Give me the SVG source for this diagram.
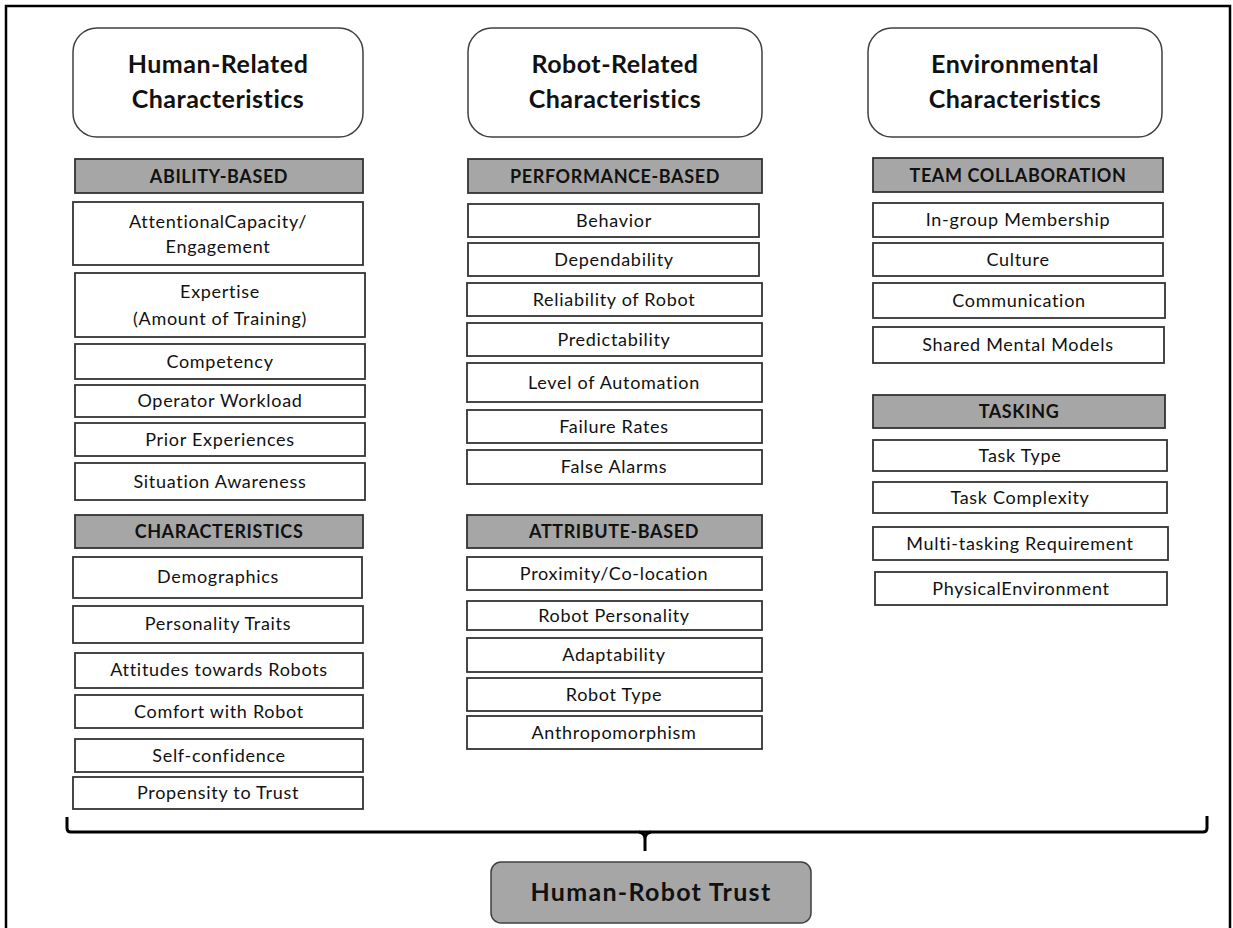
<svg xmlns="http://www.w3.org/2000/svg" width="1233" height="928" viewBox="0 0 1233 928">
<style>
.frame{fill:none;stroke:#000;stroke-width:2.5}
.title{fill:#fff;stroke:#404040;stroke-width:1.5}
.hdr{fill:#a6a6a6;stroke:#333;stroke-width:1.8}
.item{fill:#fff;stroke:#333;stroke-width:1.8}
.trust{fill:#a6a6a6;stroke:#404040;stroke-width:1.5}
text{font-family:Lato,"Liberation Sans",sans-serif;fill:#111;text-anchor:middle}
.tt{font-size:25px;font-weight:700;letter-spacing:0.5px}
.ht{font-size:18px;font-weight:700;letter-spacing:0.6px}
.it{font-size:18px;letter-spacing:0.7px}
.trt{font-size:25px;font-weight:700;letter-spacing:1.3px}
.br{fill:none;stroke:#000;stroke-width:3;stroke-linecap:butt}
</style>
<rect width="1233" height="928" fill="#fff"/>
<path class="frame" d="M6,928 L6,6 L1230,6 L1230,928"/>

<g id="human-title"><rect class="title" x="73" y="28" width="290" height="109" rx="24"/><text class="tt" x="218" y="73">Human-Related</text><text class="tt" x="218" y="108">Characteristics</text></g>
<g id="robot-title"><rect class="title" x="468" y="28" width="294" height="109" rx="24"/><text class="tt" x="615" y="73">Robot-Related</text><text class="tt" x="615" y="108">Characteristics</text></g>
<g id="env-title"><rect class="title" x="868" y="28" width="294" height="109" rx="24"/><text class="tt" x="1015" y="73">Environmental</text><text class="tt" x="1015" y="108">Characteristics</text></g>

<g id="h-ability"><rect class="hdr" x="75" y="159" width="288" height="34"/><text class="ht" x="219" y="183">ABILITY-BASED</text></g>
<g id="h-attention"><rect class="item" x="73" y="202" width="290" height="63"/><text class="it" x="218" y="228">AttentionalCapacity/</text><text class="it" x="218" y="253">Engagement</text></g>
<g id="h-expertise"><rect class="item" x="75" y="273" width="290" height="64"/><text class="it" x="220" y="298">Expertise</text><text class="it" x="220" y="325">(Amount of Training)</text></g>
<g id="h-competency"><rect class="item" x="75" y="344" width="290" height="35"/><text class="it" x="220" y="368">Competency</text></g>
<g id="h-workload"><rect class="item" x="75" y="385" width="290" height="32"/><text class="it" x="220" y="407">Operator Workload</text></g>
<g id="h-prior"><rect class="item" x="75" y="423" width="290" height="33"/><text class="it" x="220" y="446">Prior Experiences</text></g>
<g id="h-situation"><rect class="item" x="75" y="463" width="290" height="37"/><text class="it" x="220" y="488">Situation Awareness</text></g>
<g id="h-characteristics"><rect class="hdr" x="75" y="515" width="288" height="33"/><text class="ht" x="219" y="538">CHARACTERISTICS</text></g>
<g id="h-demographics"><rect class="item" x="73" y="557" width="289" height="41"/><text class="it" x="218" y="583">Demographics</text></g>
<g id="h-personality"><rect class="item" x="73" y="606" width="290" height="37"/><text class="it" x="218" y="630">Personality Traits</text></g>
<g id="h-attitudes"><rect class="item" x="75" y="653" width="288" height="35"/><text class="it" x="219" y="676">Attitudes towards Robots</text></g>
<g id="h-comfort"><rect class="item" x="75" y="695" width="288" height="33"/><text class="it" x="219" y="718">Comfort with Robot</text></g>
<g id="h-selfconf"><rect class="item" x="75" y="739" width="288" height="33"/><text class="it" x="219" y="762">Self-confidence</text></g>
<g id="h-propensity"><rect class="item" x="73" y="777" width="290" height="32"/><text class="it" x="218" y="799">Propensity to Trust</text></g>

<g id="r-performance"><rect class="hdr" x="468" y="159" width="294" height="34"/><text class="ht" x="615" y="183">PERFORMANCE-BASED</text></g>
<g id="r-behavior"><rect class="item" x="468" y="204" width="291" height="33"/><text class="it" x="614" y="227">Behavior</text></g>
<g id="r-dependability"><rect class="item" x="468" y="243" width="291" height="33"/><text class="it" x="614" y="266">Dependability</text></g>
<g id="r-reliability"><rect class="item" x="467" y="283" width="295" height="33"/><text class="it" x="614" y="306">Reliability of Robot</text></g>
<g id="r-predictability"><rect class="item" x="467" y="323" width="295" height="33"/><text class="it" x="614" y="346">Predictability</text></g>
<g id="r-automation"><rect class="item" x="467" y="363" width="295" height="39"/><text class="it" x="614" y="389">Level of Automation</text></g>
<g id="r-failure"><rect class="item" x="467" y="410" width="295" height="33"/><text class="it" x="614" y="433">Failure Rates</text></g>
<g id="r-false"><rect class="item" x="467" y="450" width="295" height="34"/><text class="it" x="614" y="473">False Alarms</text></g>
<g id="r-attribute"><rect class="hdr" x="467" y="515" width="295" height="33"/><text class="ht" x="614" y="538">ATTRIBUTE-BASED</text></g>
<g id="r-proximity"><rect class="item" x="467" y="557" width="295" height="33"/><text class="it" x="614" y="580">Proximity/Co-location</text></g>
<g id="r-rpersonality"><rect class="item" x="467" y="601" width="295" height="29"/><text class="it" x="614" y="622">Robot Personality</text></g>
<g id="r-adaptability"><rect class="item" x="467" y="638" width="295" height="34"/><text class="it" x="614" y="661">Adaptability</text></g>
<g id="r-type"><rect class="item" x="467" y="678" width="295" height="33"/><text class="it" x="614" y="701">Robot Type</text></g>
<g id="r-anthro"><rect class="item" x="467" y="716" width="295" height="33"/><text class="it" x="614" y="739">Anthropomorphism</text></g>

<g id="e-team"><rect class="hdr" x="873" y="158" width="290" height="34"/><text class="ht" x="1018" y="182">TEAM COLLABORATION</text></g>
<g id="e-ingroup"><rect class="item" x="873" y="203" width="290" height="34"/><text class="it" x="1018" y="226">In-group Membership</text></g>
<g id="e-culture"><rect class="item" x="873" y="243" width="290" height="33"/><text class="it" x="1018" y="266">Culture</text></g>
<g id="e-communication"><rect class="item" x="873" y="283" width="292" height="35"/><text class="it" x="1019" y="307">Communication</text></g>
<g id="e-shared"><rect class="item" x="873" y="327" width="291" height="36"/><text class="it" x="1018" y="351">Shared Mental Models</text></g>
<g id="e-tasking"><rect class="hdr" x="873" y="395" width="292" height="33"/><text class="ht" x="1019" y="418">TASKING</text></g>
<g id="e-tasktype"><rect class="item" x="873" y="440" width="294" height="31"/><text class="it" x="1020" y="462">Task Type</text></g>
<g id="e-complexity"><rect class="item" x="873" y="482" width="294" height="31"/><text class="it" x="1020" y="504">Task Complexity</text></g>
<g id="e-multitask"><rect class="item" x="873" y="527" width="295" height="33"/><text class="it" x="1020" y="550">Multi-tasking Requirement</text></g>
<g id="e-physical"><rect class="item" x="875" y="572" width="292" height="33"/><text class="it" x="1021" y="595">PhysicalEnvironment</text></g>

<g id="connectors">
<path class="br" d="M67,817 L67,828 Q67,832 71,832 L1203,832 Q1207,832 1207,828 L1207,816"/>
<path class="br" d="M639,832 Q645,833 645,839 L645,851 M651,832 Q645,833 645,839"/>
</g>

<g id="trust"><rect class="trust" x="491" y="862" width="320" height="61" rx="10"/><text class="trt" x="651" y="901">Human-Robot Trust</text></g>
</svg>
